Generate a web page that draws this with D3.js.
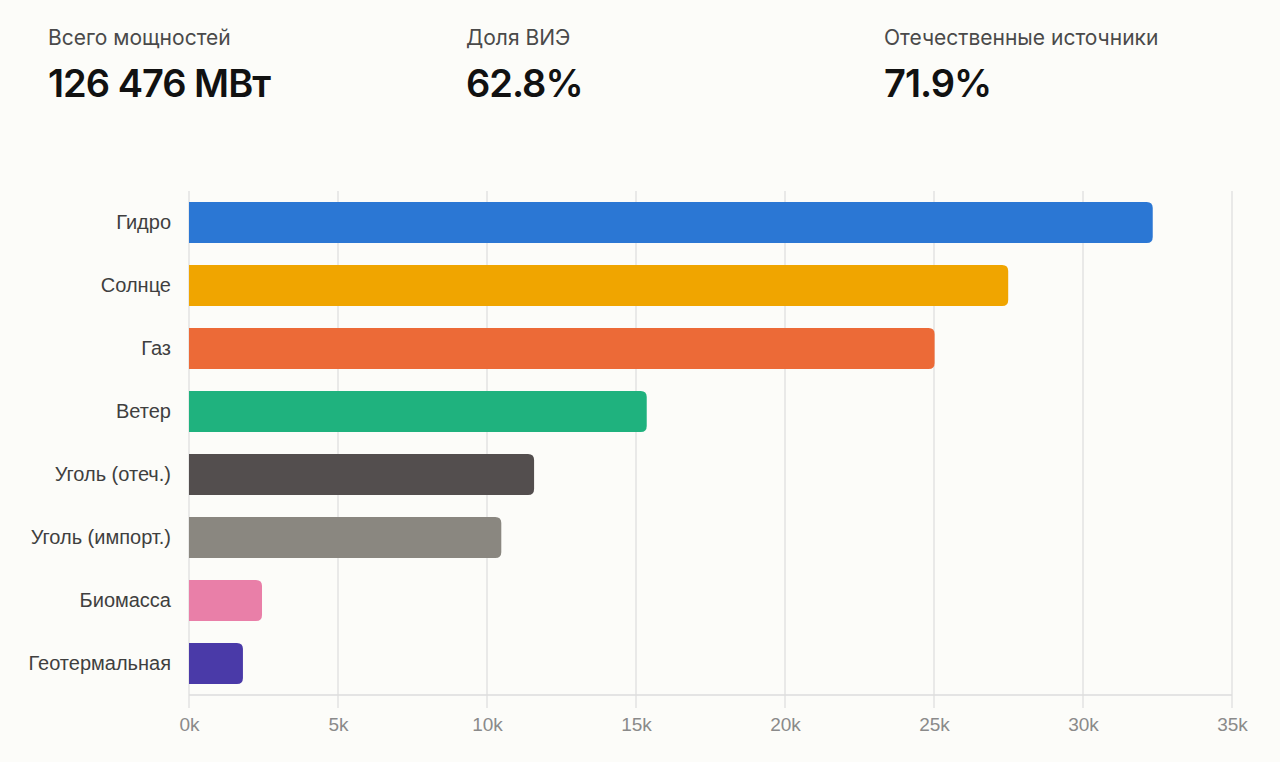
<!DOCTYPE html>
<html>
<head>
<meta charset="utf-8">
<script src="https://cdn.jsdelivr.net/npm/d3@7"></script>
<style>
  body { margin: 0; background: #fcfcf9; }
  svg { display: block; }
</style>
</head>
<body>
<div id="chart"></div>
<script>
// Installed capacity by source, MW
const categories = ['Гидро', 'Солнце', 'Газ', 'Ветер', 'Уголь (отеч.)', 'Уголь (импорт.)', 'Биомасса', 'Геотермальная'];
const capacity = [32340, 27490, 25020, 15360, 11580, 10480, 2450, 1810];
const barColors = ['#2b77d4', '#f0a500', '#ec6a37', '#1fb27e', '#534e4e', '#8a8780', '#e97fa8', '#4a3aa8'];
const xTicks = [0, 5000, 10000, 15000, 20000, 25000, 30000, 35000];
const kpiLabels = ['Всего мощностей', 'Доля ВИЭ', 'Отечественные источники'];
const kpiValues = ['126 476 МВт', '62.8%', '71.9%'];

const W = 1280, H = 762;
const margin = {top: 191, right: 48, bottom: 67, left: 189};
const width = W - margin.left - margin.right;
const height = H - margin.top - margin.bottom;

const svg = d3.select('#chart').append('svg')
    .attr('width', W)
    .attr('height', H);

svg.append('rect').attr('width', W).attr('height', H).attr('fill', '#fcfcf9');

// KPI header
const kpi = svg.selectAll('.kpi')
    .data(kpiLabels)
    .enter()
    .append('g')
    .attr('class', 'kpi')
    .attr('transform', (d, i) => `translate(${48 + i * 418},0)`);

kpi.append('text')
    .attr('y', 45)
    .style('font-family', 'Inter, "Liberation Sans", sans-serif')
    .style('font-size', '21px')
    .attr('fill', '#4a4a4a')
    .text(d => d);

kpi.append('text')
    .attr('y', 97)
    .style('font-family', 'Inter, "Liberation Sans", sans-serif')
    .style('font-size', '38px')
    .style('font-weight', '600')
    .style('letter-spacing', '-1px')
    .attr('fill', '#111')
    .text((d, i) => kpiValues[i]);

const g = svg.append('g')
    .attr('transform', `translate(${margin.left},${margin.top})`);

const x = d3.scaleLinear().domain([0, 35000]).range([0, width]);
const y = d3.scaleBand().domain(categories).range([0, height]).paddingInner(0.35).paddingOuter(0.175);

// vertical grid
g.append('g')
    .selectAll('line')
    .data(xTicks)
    .enter()
    .append('line')
    .attr('x1', d => x(d)).attr('x2', d => x(d))
    .attr('y1', 0).attr('y2', height + 13)
    .attr('stroke', '#dcdcdc')
    .attr('stroke-width', 1.2);

// baseline
g.append('line')
    .attr('x1', 0).attr('x2', width)
    .attr('y1', height).attr('y2', height)
    .attr('stroke', '#dcdcdc')
    .attr('stroke-width', 1.5);

// x axis labels
const xAxis = g.append('g')
    .attr('transform', `translate(0,${height})`)
    .call(d3.axisBottom(x).tickValues(xTicks).tickFormat(d => (d / 1000) + 'k').tickSize(0).tickPadding(23));
xAxis.select('.domain').remove();
xAxis.selectAll('text')
    .style('font-family', '"Liberation Sans", Arial, sans-serif')
    .style('font-size', '19px')
    .attr('fill', '#8a8a8a');

// y axis labels
const yAxis = g.append('g')
    .call(d3.axisLeft(y).tickSize(0).tickPadding(18));
yAxis.select('.domain').remove();
yAxis.selectAll('text')
    .style('font-family', '"Liberation Sans", Arial, sans-serif')
    .style('font-size', '20px')
    .attr('fill', '#3f3f3f');

// bars: square left end, rounded right end
function barPath(w, h, r) {
    r = Math.min(r, w, h / 2);
    return `M0,0H${w - r}Q${w},0 ${w},${r}V${h - r}Q${w},${h} ${w - r},${h}H0Z`;
}

g.selectAll('.bar')
    .data(categories)
    .enter()
    .append('path')
    .attr('class', 'bar')
    .attr('transform', d => `translate(0,${y(d)})`)
    .attr('d', (d, i) => barPath(x(capacity[i]), y.bandwidth(), 6))
    .attr('fill', (d, i) => barColors[i]);
</script>
</body>
</html>
